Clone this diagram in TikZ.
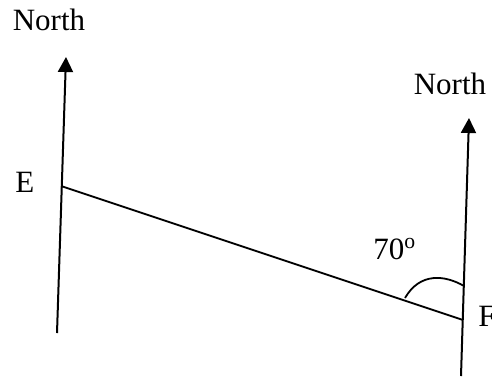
\documentclass[tikz,border=0pt]{standalone}
\usepackage{fontspec}
\setmainfont{Liberation Serif}
\usetikzlibrary{arrows.meta}
\tikzset{
  northarrow/.style={-{Triangle[length=7.5pt,width=7.5pt]},line width=1pt},
  seg/.style={line width=0.9pt},
  lbl/.style={inner sep=0pt,anchor=base,font=\fontsize{15.5}{18}\selectfont},
}
\begin{document}
\begin{tikzpicture}[x=0.5pt,y=-0.5pt]
  \useasboundingbox (0,0) rectangle (492,376);
  % bearing of F from E
  \coordinate (Ebot) at (57,333);
  \coordinate (Etip) at (66,57);
  \coordinate (E) at (61,186);
  \coordinate (Fbot) at (461,376);
  \coordinate (Ftip) at (469,118);
  \coordinate (F) at (463,320);
  \draw[northarrow] (Ebot) -- (Etip);
  \draw[northarrow] (Fbot) -- (Ftip);
  \draw[seg] (E) -- (F);
  \coordinate (a1) at (405,298);
  \coordinate (a2) at (464,286);
  \draw[seg] (a1) .. controls (420,272) and (445,275) .. (a2);
  \node[lbl] (nE) at (49,30) {North};
  \node[lbl] (nF) at (450,94) {North};
  \node[lbl,anchor=base west] (lE) at (15,192) {E};
  \node[lbl,anchor=base west] (lF) at (478,326) {F};
  \node[lbl,anchor=base west] (ang) at (373,259) {70\textsuperscript{o}};
\end{tikzpicture}
\end{document}
